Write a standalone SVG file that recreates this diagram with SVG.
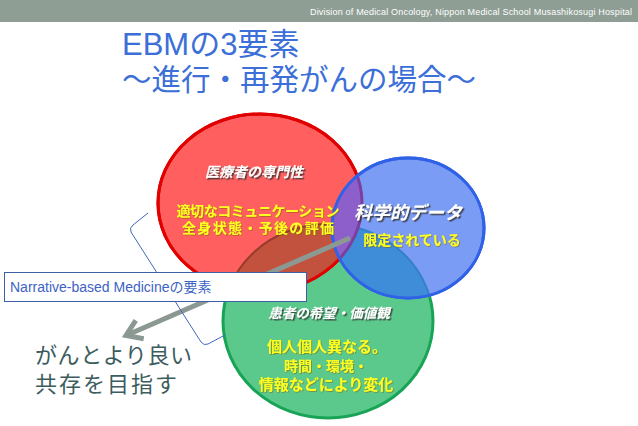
<svg xmlns="http://www.w3.org/2000/svg" width="638" height="426" viewBox="0 0 638 426">
<style>
.hdr{font-family:"Liberation Sans",Arial,sans-serif;font-size:9px;fill:#ffffff}
.ttl{font-family:"Liberation Sans","Noto Sans CJK JP",sans-serif;fill:#3c6fd8}
.wh{font-family:"Noto Sans CJK JP",sans-serif;font-weight:bold;font-style:italic;fill:#ffffff;text-anchor:middle;filter:url(#sh)}
.yl{font-family:"Noto Sans CJK JP",sans-serif;font-weight:bold;fill:#ffff22;text-anchor:middle;filter:url(#sh2)}
.goal{font-family:"Noto Sans CJK JP",sans-serif;font-size:22px;fill:#3d5c5e}
.box{font-family:"Liberation Sans","Noto Sans CJK JP",sans-serif;font-size:14px;fill:#3d63c4}
</style>
<defs>
<clipPath id="cR"><ellipse cx="260" cy="203" rx="102" ry="89"/></clipPath>
<clipPath id="cG"><ellipse cx="328" cy="321" rx="105" ry="97"/></clipPath>
<clipPath id="cB"><ellipse cx="408" cy="228" rx="76" ry="70"/></clipPath>
<filter id="sh" x="-10%" y="-30%" width="120%" height="160%"><feDropShadow dx="1.5" dy="1.5" stdDeviation="0.7" flood-color="#333333" flood-opacity="0.85"/></filter>
<filter id="sh2" x="-10%" y="-30%" width="120%" height="160%"><feDropShadow dx="0.8" dy="0.8" stdDeviation="0.5" flood-color="#7a5a00" flood-opacity="0.6"/></filter>
<marker id="chev" markerUnits="userSpaceOnUse" markerWidth="30" markerHeight="30" viewBox="-20 -15 30 30" refX="0" refY="0" orient="auto">
<path d="M-15,-10 L0,0 L-15,10" fill="none" stroke="#8c9892" stroke-width="5"/>
</marker>
</defs>

<g id="header">
<rect x="0" y="0" width="638" height="22" fill="#8e9e94"/>
<text class="hdr" x="632" y="15" text-anchor="end" textLength="322">Division of Medical Oncology, Nippon Medical School Musashikosugi Hospital</text>
</g>

<g id="title">
<text class="ttl" x="122" y="55" font-size="31">EBMの3要素</text>
<text class="ttl" x="122" y="90" font-size="29.5">～進行・再発がんの場合～</text>
</g>

<g id="circle-green">
<ellipse cx="328" cy="321" rx="105" ry="97" fill="#5cc98c" stroke="#18a455" stroke-width="3"/>
</g>
<g id="circle-red">
<ellipse cx="260" cy="203" rx="102" ry="89" fill="#ff5f5f" stroke="#e00000" stroke-width="3"/>
</g>
<g id="overlap-red-green">
<ellipse cx="328" cy="321" rx="105" ry="97" clip-path="url(#cR)" fill="#c2523e" stroke="#973c2c" stroke-width="2"/>
<ellipse cx="260" cy="203" rx="102" ry="89" fill="none" stroke="#e00000" stroke-width="3"/>
</g>
<g id="circle-blue">
<ellipse cx="408" cy="228" rx="76" ry="70" fill="#7b9cf4" stroke="#2f62e6" stroke-width="3"/>
</g>
<g id="overlap-blue">
<ellipse cx="328" cy="321" rx="105" ry="97" clip-path="url(#cB)" fill="#3f8dd8" stroke="#3580c8" stroke-width="2"/>
<ellipse cx="260" cy="203" rx="102" ry="89" clip-path="url(#cB)" fill="#8c5fca" stroke="#7b3fa0" stroke-width="3"/>
<ellipse cx="408" cy="228" rx="76" ry="70" fill="none" stroke="#2f62e6" stroke-width="3"/>
</g>

<g id="connectors">
<line x1="350" y1="238" x2="126" y2="335.5" stroke="#8c9892" stroke-width="5" marker-end="url(#chev)"/>
<path d="M148,213 L133,225 Q129,228 131,232 L201,342 Q204,346 208,344 L225,335" fill="none" stroke="#4466bb" stroke-width="1"/>
</g>

<g id="nbm-box">
<rect x="4.5" y="272.5" width="302" height="29" fill="#ffffff" stroke="#3d5fa8" stroke-width="1"/>
<text class="box" x="10" y="292">Narrative-based Medicineの要素</text>
</g>

<g id="label-red">
<text class="wh" x="254" y="177" font-size="14">医療者の専門性</text>
<text class="yl" x="258" y="216" font-size="14" textLength="163">適切なコミュニケーション</text>
<text class="yl" x="258" y="232.5" font-size="14" textLength="152">全身状態・予後の評価</text>
</g>
<g id="label-blue">
<text class="wh" x="408" y="219" font-size="18">科学的データ</text>
<text class="yl" x="412" y="245" font-size="14">限定されている</text>
</g>
<g id="label-green">
<text class="wh" x="329" y="318" font-size="13.5">患者の希望・価値観</text>
<text class="yl" x="327" y="352" font-size="15">個人個人異なる。</text>
<text class="yl" x="326" y="371" font-size="14">時間・環境・</text>
<text class="yl" x="326" y="389.5" font-size="15">情報などにより変化</text>
</g>

<g id="goal">
<text class="goal" x="35" y="363" textLength="157">がんとより良い</text>
<text class="goal" x="35" y="392" textLength="142">共存を目指す</text>
</g>
</svg>
